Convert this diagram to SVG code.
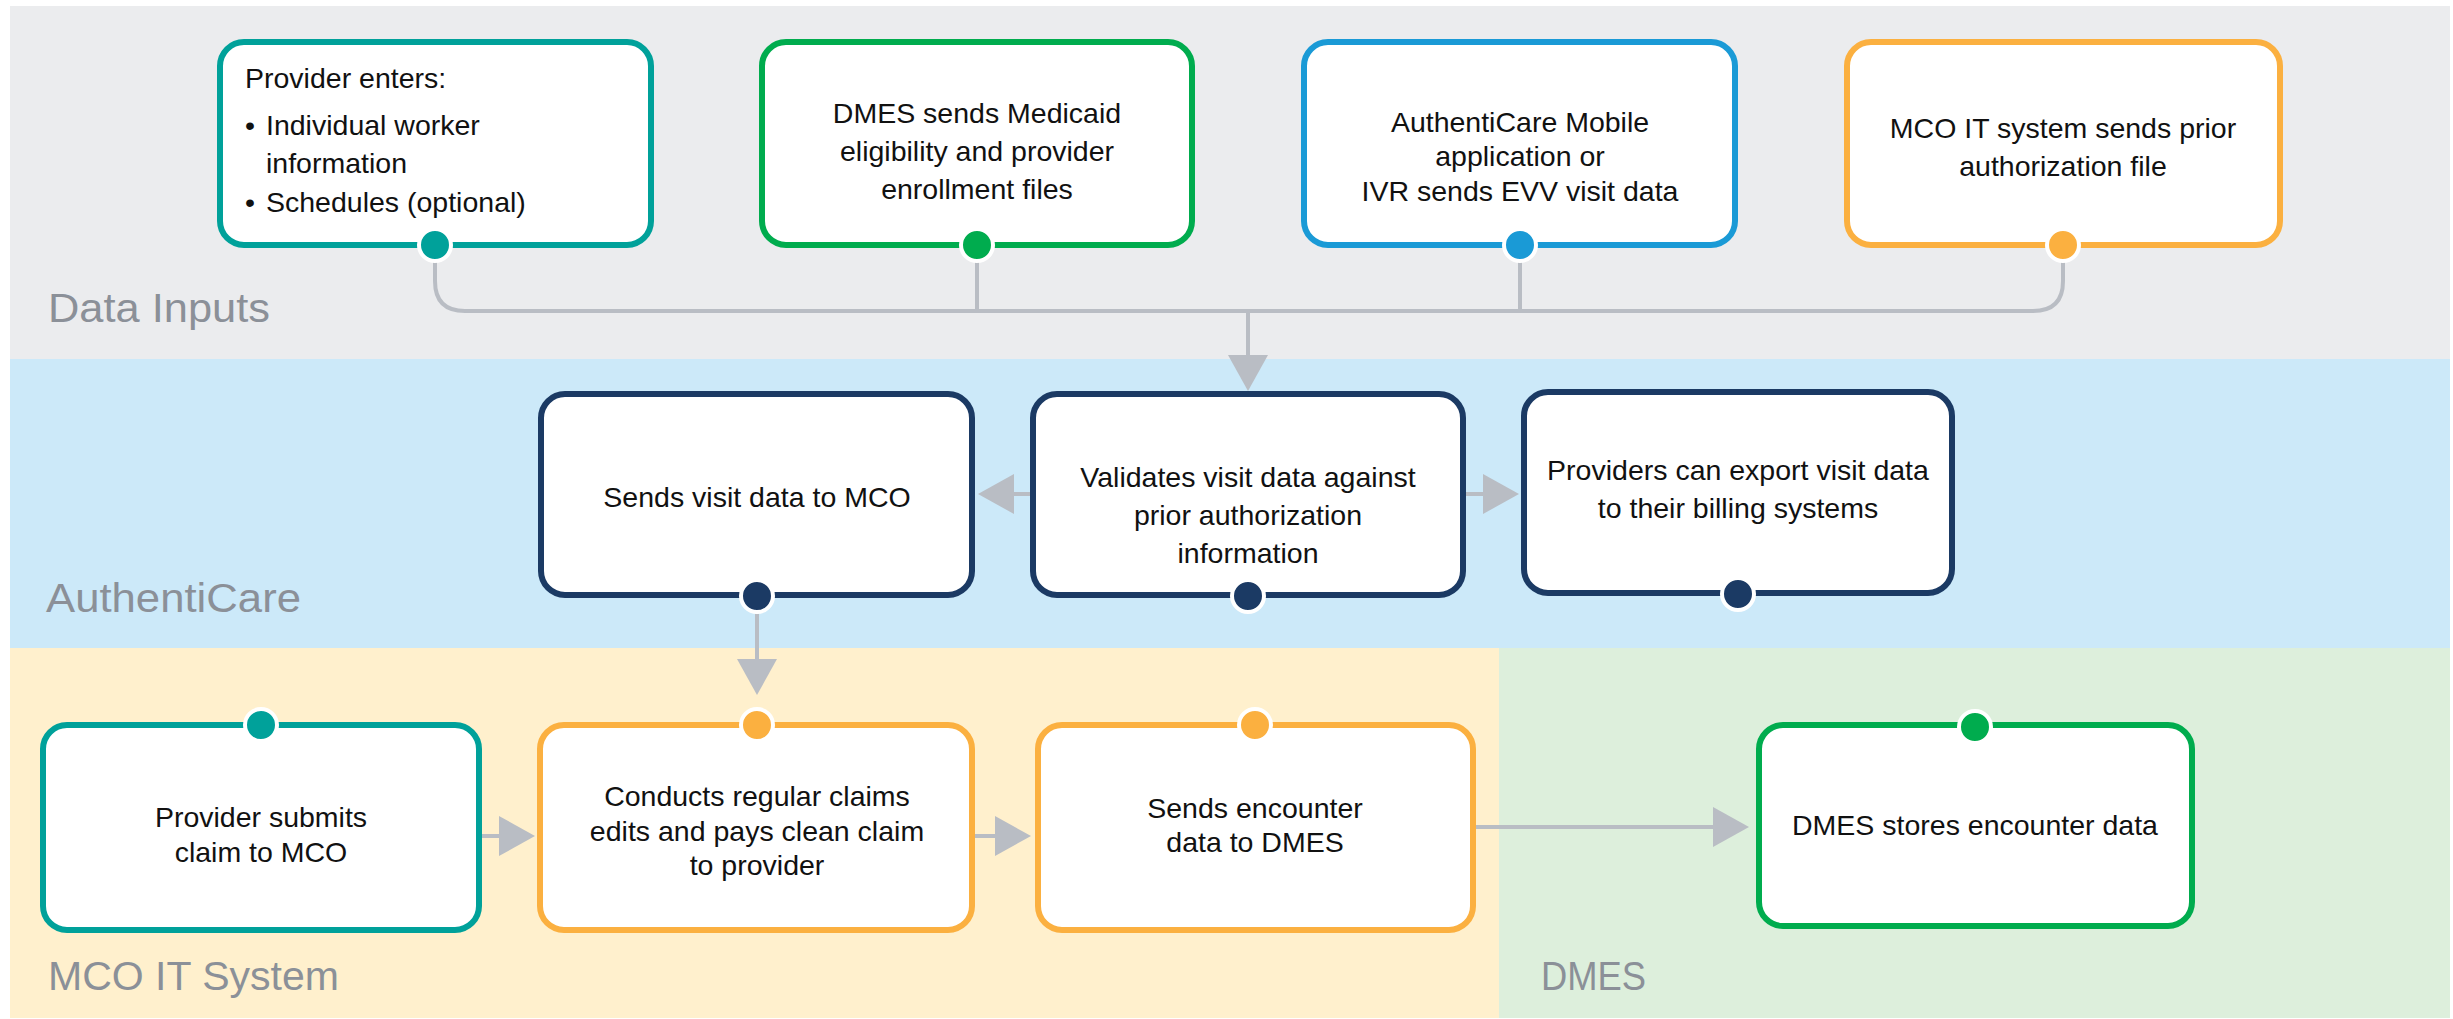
<svg xmlns="http://www.w3.org/2000/svg" width="2453" height="1019" viewBox="0 0 2453 1019">
<style>
.lane{font-family:"Liberation Sans",Arial,sans-serif;font-size:41px;fill:#8b9098}
.t{font-family:"Liberation Sans",Arial,sans-serif;font-size:28.5px;fill:#111;text-anchor:middle}
.tl{font-family:"Liberation Sans",Arial,sans-serif;font-size:28.5px;fill:#111}
.box{fill:#fff;stroke-width:6}
.conn{fill:none;stroke:#b9bdc4;stroke-width:4}
.dot{stroke:#fff;stroke-width:4}
.teal{stroke:#00a19a}.teal-f{fill:#00a19a}
.green{stroke:#00ac4e}.green-f{fill:#00ac4e}
.blue{stroke:#1a9ad6}.blue-f{fill:#1a9ad6}
.orange{stroke:#fbb040}.orange-f{fill:#fbb040}
.navy{stroke:#1b3a64}.navy-f{fill:#1b3a64}
</style>
<defs>
<marker id="ah" markerUnits="userSpaceOnUse" viewBox="0 0 36 40" markerWidth="36" markerHeight="40" refX="0" refY="20" orient="auto">
<path d="M0,0 L36,20 L0,40 z" fill="#b9bdc4"/>
</marker>
</defs>
<rect width="2453" height="1019" fill="#fff"/>
<g id="lanes">
<rect x="10" y="6" width="2440" height="353" fill="#ebecee"/>
<rect x="10" y="359" width="2440" height="289" fill="#cce9f9"/>
<rect x="10" y="648" width="1489" height="370" fill="#fff0cd"/>
<rect x="1499" y="648" width="951" height="370" fill="#ddefdc"/>
<text class="lane" x="48" y="322" textLength="222" lengthAdjust="spacingAndGlyphs">Data Inputs</text>
<text class="lane" x="46" y="612" textLength="255" lengthAdjust="spacingAndGlyphs">AuthentiCare</text>
<text class="lane" x="48" y="990" textLength="291" lengthAdjust="spacingAndGlyphs">MCO IT System</text>
<text class="lane" x="1541" y="990" textLength="105" lengthAdjust="spacingAndGlyphs">DMES</text>
</g>
<g id="connectors">
<path class="conn" d="M435,261 V281 Q435,311 465,311 H2033 Q2063,311 2063,281 V261"/>
<path class="conn" d="M977,261 V311"/>
<path class="conn" d="M1520,261 V311"/>
<path class="conn" d="M1248,311 V355" marker-end="url(#ah)"/>
<path class="conn" d="M1033,494 H1014" marker-end="url(#ah)"/>
<path class="conn" d="M1463,494 H1483" marker-end="url(#ah)"/>
<path class="conn" d="M757,614 V659" marker-end="url(#ah)"/>
<path class="conn" d="M479,836 H499" marker-end="url(#ah)"/>
<path class="conn" d="M972,836 H995" marker-end="url(#ah)"/>
<path class="conn" d="M1473,827 H1713" marker-end="url(#ah)"/>
</g>
<g id="provider-enters">
<rect class="box teal" x="220" y="42" width="431" height="203" rx="24"/>
<circle class="dot teal-f" cx="435" cy="245" r="16"/>
<text class="tl" x="245" y="88">Provider enters:</text>
<text class="tl" x="245" y="135">•</text>
<text class="tl" x="266" y="135">Individual worker</text>
<text class="tl" x="266" y="173">information</text>
<text class="tl" x="245" y="212">•</text>
<text class="tl" x="266" y="212">Schedules (optional)</text>
</g>
<g id="dmes-sends">
<rect class="box green" x="762" y="42" width="430" height="203" rx="24"/>
<circle class="dot green-f" cx="977" cy="245" r="16"/>
<text class="t" x="977" y="123">DMES sends Medicaid</text>
<text class="t" x="977" y="161">eligibility and provider</text>
<text class="t" x="977" y="199">enrollment files</text>
</g>
<g id="authenticare-mobile">
<rect class="box blue" x="1304" y="42" width="431" height="203" rx="24"/>
<circle class="dot blue-f" cx="1520" cy="245" r="16"/>
<text class="t" x="1520" y="132">AuthentiCare Mobile</text>
<text class="t" x="1520" y="166">application or</text>
<text class="t" x="1520" y="201">IVR sends EVV visit data</text>
</g>
<g id="mco-sends">
<rect class="box orange" x="1847" y="42" width="433" height="203" rx="24"/>
<circle class="dot orange-f" cx="2063" cy="245" r="16"/>
<text class="t" x="2063" y="138">MCO IT system sends prior</text>
<text class="t" x="2063" y="176">authorization file</text>
</g>
<g id="sends-visit">
<rect class="box navy" x="541" y="394" width="431" height="201" rx="24"/>
<circle class="dot navy-f" cx="757" cy="596" r="16"/>
<text class="t" x="757" y="507">Sends visit data to MCO</text>
</g>
<g id="validates">
<rect class="box navy" x="1033" y="394" width="430" height="201" rx="24"/>
<circle class="dot navy-f" cx="1248" cy="596" r="16"/>
<text class="t" x="1248" y="487">Validates visit data against</text>
<text class="t" x="1248" y="525">prior authorization</text>
<text class="t" x="1248" y="563">information</text>
</g>
<g id="providers-export">
<rect class="box navy" x="1524" y="392" width="428" height="201" rx="24"/>
<circle class="dot navy-f" cx="1738" cy="594" r="16"/>
<text class="t" x="1738" y="480">Providers can export visit data</text>
<text class="t" x="1738" y="518">to their billing systems</text>
</g>
<g id="provider-submits">
<rect class="box teal" x="43" y="725" width="436" height="205" rx="24"/>
<circle class="dot teal-f" cx="261" cy="725" r="16"/>
<text class="t" x="261" y="827">Provider submits</text>
<text class="t" x="261" y="862">claim to MCO</text>
</g>
<g id="conducts">
<rect class="box orange" x="540" y="725" width="432" height="205" rx="24"/>
<circle class="dot orange-f" cx="757" cy="725" r="16"/>
<text class="t" x="757" y="806">Conducts regular claims</text>
<text class="t" x="757" y="841">edits and pays clean claim</text>
<text class="t" x="757" y="875">to provider</text>
</g>
<g id="sends-encounter">
<rect class="box orange" x="1038" y="725" width="435" height="205" rx="24"/>
<circle class="dot orange-f" cx="1255" cy="725" r="16"/>
<text class="t" x="1255" y="818">Sends encounter</text>
<text class="t" x="1255" y="852">data to DMES</text>
</g>
<g id="dmes-stores">
<rect class="box green" x="1759" y="725" width="433" height="201" rx="24"/>
<circle class="dot green-f" cx="1975" cy="727" r="16"/>
<text class="t" x="1975" y="835">DMES stores encounter data</text>
</g>
</svg>
